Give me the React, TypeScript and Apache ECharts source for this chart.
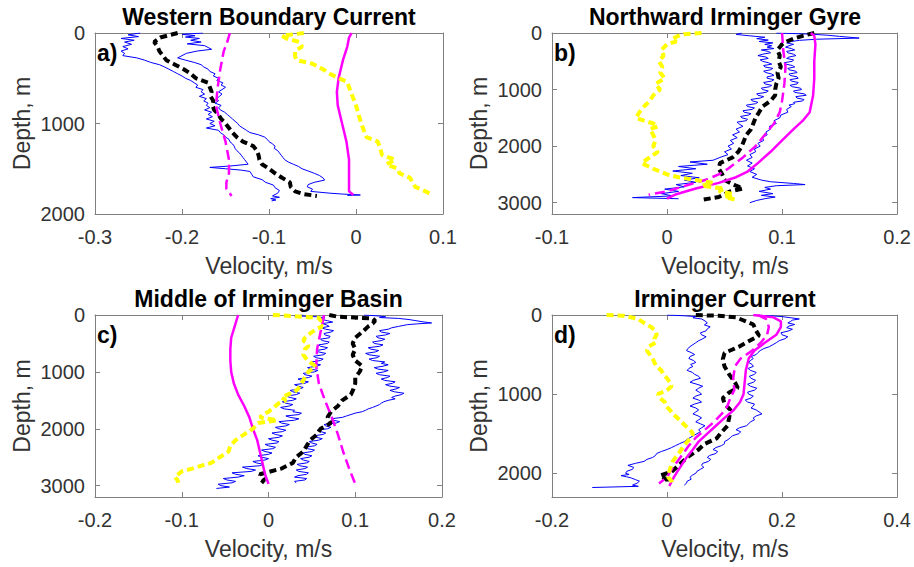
import React, { useEffect, useRef } from 'react';
import * as echarts from 'echarts';

type P = [number, number][]; // [depth (m), velocity (m/s)]

// ---------- Panel a: Western Boundary Current ----------
const aBlueLeft: P = [[0,-0.248],[20,-0.262],[40,-0.25],[60,-0.27],[80,-0.255],[100,-0.266],[125,-0.258],[150,-0.268],[175,-0.262],[200,-0.27],[225,-0.266],[250,-0.268],[275,-0.252],[300,-0.243],[325,-0.236],[350,-0.226],[375,-0.22],[400,-0.215],[425,-0.21],[450,-0.205],[475,-0.2],[500,-0.196],[525,-0.19],[550,-0.186],[575,-0.182],[600,-0.184],[625,-0.176],[650,-0.178],[675,-0.174],[700,-0.18],[725,-0.172],[750,-0.175],[775,-0.17],[800,-0.172],[825,-0.168],[850,-0.174],[875,-0.166],[900,-0.17],[925,-0.165],[950,-0.172],[975,-0.163],[1000,-0.168],[1025,-0.162],[1050,-0.172],[1075,-0.158],[1100,-0.156],[1125,-0.152],[1150,-0.15],[1175,-0.146],[1200,-0.145],[1225,-0.142],[1250,-0.14],[1275,-0.139],[1300,-0.137],[1325,-0.134],[1350,-0.132],[1375,-0.13],[1400,-0.128],[1425,-0.126],[1450,-0.124],[1470,-0.145],[1485,-0.168],[1500,-0.15],[1515,-0.132],[1530,-0.122],[1560,-0.12],[1590,-0.118],[1620,-0.108],[1650,-0.104],[1680,-0.095],[1710,-0.093],[1740,-0.088],[1770,-0.09],[1800,-0.096],[1815,-0.088],[1830,-0.098],[1845,-0.092],[1855,-0.097]];
const aBlueRight: P = [[0,-0.176],[15,-0.2],[30,-0.185],[45,-0.196],[60,-0.18],[80,-0.19],[100,-0.178],[120,-0.194],[140,-0.174],[160,-0.17],[180,-0.166],[200,-0.183],[225,-0.195],[250,-0.2],[275,-0.205],[300,-0.196],[325,-0.186],[350,-0.178],[375,-0.175],[400,-0.17],[425,-0.168],[450,-0.162],[475,-0.164],[500,-0.158],[525,-0.16],[550,-0.153],[575,-0.155],[600,-0.15],[625,-0.154],[650,-0.158],[675,-0.154],[700,-0.157],[725,-0.16],[750,-0.158],[775,-0.162],[800,-0.155],[825,-0.158],[850,-0.156],[875,-0.151],[900,-0.148],[925,-0.145],[950,-0.142],[975,-0.139],[1000,-0.136],[1025,-0.134],[1050,-0.13],[1075,-0.126],[1100,-0.122],[1125,-0.112],[1150,-0.105],[1175,-0.102],[1200,-0.1],[1225,-0.096],[1250,-0.093],[1275,-0.094],[1300,-0.09],[1325,-0.088],[1350,-0.086],[1375,-0.084],[1400,-0.082],[1425,-0.078],[1450,-0.072],[1475,-0.066],[1500,-0.062],[1525,-0.055],[1550,-0.048],[1575,-0.042],[1600,-0.038],[1625,-0.036],[1650,-0.048],[1675,-0.055],[1700,-0.056],[1725,-0.05],[1750,-0.052],[1770,-0.03],[1780,-0.015],[1790,0.005],[1795,-0.01]];
const aBlack: P = [[0,-0.205],[50,-0.225],[100,-0.232],[150,-0.228],[200,-0.226],[250,-0.222],[300,-0.218],[350,-0.208],[400,-0.198],[450,-0.19],[500,-0.184],[550,-0.17],[600,-0.168],[650,-0.166],[700,-0.167],[750,-0.164],[800,-0.165],[850,-0.163],[900,-0.158],[950,-0.155],[1000,-0.15],[1050,-0.146],[1100,-0.142],[1150,-0.137],[1200,-0.13],[1250,-0.118],[1300,-0.114],[1350,-0.112],[1400,-0.111],[1450,-0.108],[1500,-0.1],[1550,-0.093],[1600,-0.085],[1650,-0.076],[1700,-0.075],[1750,-0.07],[1780,-0.06],[1800,-0.045]];
const aMagSolid: P = [[0,-0.005],[50,-0.008],[150,-0.01],[300,-0.015],[500,-0.02],[650,-0.022],[800,-0.021],[1000,-0.016],[1200,-0.011],[1400,-0.008],[1600,-0.008],[1750,-0.008],[1790,-0.003]];
const aMagDash: P = [[0,-0.145],[100,-0.148],[200,-0.152],[400,-0.156],[600,-0.159],[800,-0.161],[1000,-0.156],[1200,-0.15],[1400,-0.146],[1550,-0.146],[1650,-0.149],[1720,-0.149],[1800,-0.143]];
const aYellow: P = [[0,-0.06],[30,-0.085],[60,-0.08],[100,-0.065],[150,-0.062],[200,-0.07],[260,-0.07],[300,-0.068],[340,-0.05],[400,-0.038],[450,-0.03],[500,-0.02],[540,-0.01],[600,-0.008],[700,-0.004],[800,0],[900,0.003],[1000,0.006],[1100,0.01],[1150,0.012],[1200,0.025],[1280,0.028],[1350,0.03],[1400,0.045],[1450,0.035],[1500,0.048],[1550,0.05],[1600,0.062],[1650,0.065],[1700,0.068],[1750,0.08],[1790,0.088]];

// ---------- Panel b: Northward Irminger Gyre ----------
const bBlueLeft: P = [[0,0.065],[25,0.06],[50,0.072],[75,0.085],[100,0.078],[125,0.088],[150,0.08],[175,0.092],[200,0.085],[225,0.091],[250,0.087],[275,0.093],[300,0.082],[325,0.088],[350,0.09],[375,0.083],[400,0.079],[425,0.086],[450,0.088],[475,0.081],[500,0.083],[525,0.088],[550,0.091],[575,0.084],[600,0.085],[625,0.092],[650,0.09],[675,0.084],[700,0.086],[725,0.091],[750,0.093],[775,0.087],[800,0.087],[825,0.093],[850,0.091],[875,0.084],[900,0.085],[925,0.091],[950,0.089],[975,0.082],[1000,0.083],[1025,0.088],[1050,0.086],[1075,0.078],[1100,0.079],[1125,0.084],[1150,0.081],[1175,0.073],[1200,0.074],[1225,0.079],[1250,0.077],[1275,0.069],[1300,0.07],[1325,0.076],[1350,0.074],[1375,0.066],[1400,0.067],[1425,0.073],[1450,0.071],[1475,0.064],[1500,0.065],[1525,0.07],[1550,0.069],[1575,0.061],[1600,0.062],[1650,0.066],[1700,0.06],[1750,0.063],[1800,0.057],[1850,0.061],[1900,0.055],[1950,0.058],[2000,0.053],[2050,0.056],[2100,0.05],[2150,0.053],[2200,0.046],[2250,0.04],[2280,0.02],[2320,0.035],[2360,0.01],[2400,0.025],[2440,0.005],[2480,0.022],[2520,0.012],[2560,0.028],[2600,0.015],[2640,0.025],[2680,0.008],[2720,0.015],[2760,-0.002],[2800,0.01],[2840,-0.005],[2880,0.005],[2910,-0.03],[2930,0.01]];
const bBlueRight: P = [[0,0.095],[20,0.125],[40,0.14],[60,0.15],[90,0.167],[110,0.13],[130,0.115],[150,0.108],[175,0.104],[200,0.11],[225,0.106],[250,0.103],[275,0.108],[300,0.111],[325,0.104],[350,0.105],[375,0.11],[400,0.112],[425,0.106],[450,0.104],[475,0.11],[500,0.109],[525,0.102],[550,0.103],[575,0.109],[600,0.111],[625,0.105],[650,0.106],[675,0.112],[700,0.113],[725,0.106],[750,0.107],[775,0.113],[800,0.114],[825,0.107],[850,0.108],[875,0.114],[900,0.113],[925,0.107],[950,0.109],[975,0.116],[1000,0.117],[1025,0.11],[1050,0.111],[1075,0.119],[1100,0.121],[1125,0.112],[1150,0.113],[1175,0.119],[1200,0.118],[1225,0.11],[1250,0.111],[1275,0.106],[1300,0.108],[1350,0.104],[1400,0.105],[1450,0.099],[1500,0.098],[1550,0.093],[1600,0.095],[1650,0.089],[1700,0.09],[1750,0.086],[1800,0.087],[1850,0.083],[1900,0.084],[1950,0.079],[2000,0.081],[2050,0.076],[2100,0.077],[2150,0.072],[2200,0.074],[2250,0.069],[2300,0.074],[2350,0.07],[2400,0.076],[2450,0.072],[2500,0.078],[2550,0.074],[2600,0.082],[2630,0.09],[2660,0.11],[2680,0.12],[2700,0.095],[2730,0.085],[2760,0.09],[2800,0.08],[2840,0.092],[2870,0.082],[2900,0.094],[2930,0.085],[2960,0.078],[3000,0.072]];
const bBlack: P = [[0,0.128],[50,0.118],[100,0.11],[150,0.104],[200,0.1],[300,0.096],[400,0.098],[500,0.097],[600,0.099],[700,0.096],[800,0.097],[900,0.095],[1000,0.094],[1100,0.094],[1200,0.09],[1300,0.083],[1400,0.08],[1500,0.077],[1600,0.075],[1700,0.073],[1800,0.069],[1900,0.067],[2000,0.065],[2100,0.062],[2200,0.057],[2300,0.046],[2400,0.045],[2500,0.048],[2600,0.05],[2700,0.06],[2750,0.066],[2800,0.055],[2850,0.05],[2900,0.045],[2950,0.03]];
const bMagSolid: P = [[0,0.125],[50,0.128],[200,0.129],[500,0.128],[800,0.128],[1100,0.127],[1400,0.124],[1550,0.118],[1700,0.11],[1900,0.1],[2100,0.09],[2300,0.079],[2450,0.07],[2550,0.06],[2650,0.045],[2750,0.025],[2850,0.008],[2930,0.0]];
const bMagDash: P = [[0,0.1],[300,0.101],[600,0.103],[900,0.102],[1200,0.1],[1400,0.098],[1600,0.093],[1800,0.085],[2000,0.077],[2200,0.066],[2400,0.053],[2500,0.045],[2600,0.033],[2700,0.016],[2800,0.0],[2860,-0.016]];
const bYellow: P = [[0,0.03],[20,0.015],[50,0.01],[100,0.005],[150,0.008],[200,0.0],[300,-0.005],[400,-0.003],[500,-0.007],[600,-0.004],[700,-0.006],[800,-0.002],[900,-0.01],[1000,-0.006],[1100,-0.012],[1200,-0.015],[1300,-0.02],[1400,-0.024],[1500,-0.027],[1550,-0.02],[1600,-0.012],[1650,-0.008],[1700,-0.015],[1800,-0.012],[1900,-0.01],[2000,-0.012],[2100,-0.008],[2200,-0.015],[2300,-0.022],[2400,-0.012],[2500,0.0],[2550,0.01],[2600,0.025],[2650,0.04],[2700,0.03],[2750,0.05],[2800,0.045],[2850,0.058],[2900,0.05],[2950,0.06]];

// ---------- Panel c: Middle of Irminger Basin ----------
const cBlueLeft: P = [[0,0.04],[15,0.03],[30,0.055],[50,0.065],[75,0.06],[100,0.068],[125,0.074],[150,0.062],[175,0.067],[200,0.07],[225,0.061],[250,0.066],[275,0.075],[300,0.072],[325,0.064],[350,0.065],[375,0.071],[400,0.07],[425,0.06],[450,0.062],[475,0.07],[500,0.068],[525,0.058],[550,0.06],[575,0.068],[600,0.065],[625,0.055],[650,0.058],[675,0.066],[700,0.063],[725,0.052],[750,0.055],[775,0.063],[800,0.06],[825,0.05],[850,0.052],[875,0.06],[900,0.056],[925,0.045],[950,0.048],[975,0.057],[1000,0.053],[1025,0.04],[1050,0.042],[1075,0.05],[1100,0.046],[1125,0.034],[1150,0.038],[1175,0.046],[1200,0.042],[1225,0.03],[1250,0.034],[1275,0.04],[1300,0.036],[1325,0.025],[1350,0.028],[1375,0.036],[1400,0.032],[1425,0.02],[1450,0.025],[1475,0.032],[1500,0.028],[1525,0.016],[1550,0.02],[1575,0.028],[1600,0.024],[1625,0.014],[1650,0.018],[1675,0.03],[1700,0.028],[1725,0.038],[1750,0.035],[1775,0.02],[1800,0.025],[1825,0.035],[1850,0.03],[1875,0.012],[1900,0.015],[1925,0.024],[1950,0.02],[1975,0.008],[2000,0.012],[2025,0.02],[2050,0.016],[2075,0.004],[2100,0.008],[2125,0.016],[2150,0.012],[2175,0.0],[2200,0.004],[2225,0.012],[2250,0.01],[2275,-0.004],[2300,0.0],[2325,0.008],[2350,0.005],[2375,-0.008],[2400,-0.004],[2425,0.004],[2450,0.0],[2475,-0.012],[2500,-0.008],[2525,0.0],[2550,-0.004],[2575,-0.018],[2600,-0.014],[2625,-0.006],[2650,-0.01],[2675,-0.03],[2700,-0.025],[2725,-0.015],[2750,-0.02],[2775,-0.042],[2800,-0.038],[2825,-0.028],[2850,-0.035],[2875,-0.052],[2900,-0.048],[2925,-0.038],[2950,-0.042],[2975,-0.058],[3000,-0.055],[3025,-0.045],[3050,-0.06]];
const cBlueRight: P = [[0,0.11],[15,0.125],[30,0.135],[45,0.128],[60,0.15],[80,0.162],[100,0.17],[120,0.178],[140,0.188],[155,0.172],[170,0.16],[185,0.155],[200,0.15],[225,0.142],[250,0.138],[275,0.128],[300,0.13],[325,0.14],[350,0.135],[375,0.124],[400,0.126],[425,0.134],[450,0.13],[475,0.12],[500,0.122],[525,0.132],[550,0.128],[575,0.115],[600,0.118],[625,0.127],[650,0.123],[675,0.112],[700,0.116],[725,0.128],[750,0.125],[775,0.116],[800,0.12],[825,0.134],[850,0.13],[875,0.138],[900,0.132],[925,0.122],[950,0.126],[975,0.138],[1000,0.133],[1025,0.124],[1050,0.128],[1075,0.14],[1100,0.137],[1125,0.13],[1150,0.134],[1175,0.146],[1200,0.143],[1225,0.135],[1250,0.14],[1275,0.151],[1300,0.147],[1325,0.14],[1350,0.145],[1375,0.156],[1400,0.153],[1425,0.146],[1450,0.142],[1475,0.146],[1500,0.138],[1525,0.133],[1550,0.13],[1575,0.128],[1600,0.124],[1625,0.12],[1650,0.115],[1675,0.112],[1700,0.108],[1725,0.1],[1750,0.095],[1775,0.09],[1800,0.085],[1825,0.072],[1850,0.075],[1875,0.082],[1900,0.078],[1925,0.064],[1950,0.066],[1975,0.072],[2000,0.068],[2025,0.056],[2050,0.06],[2075,0.066],[2100,0.063],[2125,0.052],[2150,0.055],[2175,0.062],[2200,0.058],[2225,0.047],[2250,0.05],[2275,0.056],[2300,0.053],[2325,0.042],[2350,0.045],[2375,0.053],[2400,0.05],[2425,0.04],[2450,0.042],[2475,0.05],[2500,0.047],[2525,0.037],[2550,0.04],[2575,0.047],[2600,0.044],[2625,0.033],[2650,0.036],[2675,0.045],[2700,0.042],[2725,0.032],[2750,0.035],[2775,0.046],[2800,0.044],[2825,0.034],[2850,0.03],[2875,0.044],[2900,0.042],[2925,0.03],[2950,0.032]];
const cBlack: P = [[0,0.07],[30,0.08],[60,0.12],[100,0.123],[150,0.12],[200,0.115],[300,0.108],[400,0.1],[500,0.097],[600,0.1],[700,0.097],[800,0.1],[900,0.108],[1000,0.105],[1100,0.1],[1200,0.1],[1300,0.098],[1400,0.095],[1500,0.085],[1600,0.08],[1700,0.072],[1800,0.068],[1900,0.072],[2000,0.06],[2100,0.056],[2200,0.048],[2300,0.044],[2400,0.04],[2500,0.032],[2600,0.028],[2700,0.015],[2800,-0.01],[2900,-0.005],[2950,-0.008]];
const cMagSolid: P = [[0,-0.035],[200,-0.039],[400,-0.043],[600,-0.044],[800,-0.044],[1000,-0.043],[1200,-0.04],[1400,-0.035],[1600,-0.028],[1800,-0.022],[2000,-0.018],[2200,-0.013],[2400,-0.01],[2600,-0.007],[2800,-0.004],[2970,0.0]];
const cMagDash: P = [[0,0.064],[300,0.06],[600,0.056],[900,0.055],[1200,0.058],[1500,0.065],[1800,0.073],[2100,0.08],[2400,0.086],[2700,0.093],[2970,0.1]];
const cYellow: P = [[0,0.005],[20,0.03],[50,0.058],[100,0.06],[150,0.058],[200,0.062],[250,0.055],[300,0.05],[350,0.046],[400,0.042],[450,0.04],[500,0.045],[550,0.046],[600,0.042],[700,0.04],[800,0.045],[900,0.054],[950,0.05],[1000,0.046],[1100,0.042],[1200,0.038],[1300,0.034],[1350,0.03],[1400,0.022],[1450,0.015],[1500,0.02],[1550,0.012],[1600,0.008],[1700,0.0],[1750,-0.006],[1800,-0.01],[1850,0.01],[1900,-0.012],[2000,-0.018],[2100,-0.028],[2200,-0.038],[2300,-0.044],[2400,-0.046],[2500,-0.056],[2600,-0.066],[2700,-0.088],[2750,-0.1],[2800,-0.104],[2850,-0.108],[2900,-0.105],[2950,-0.104]];

// ---------- Panel d: Irminger Current ----------
const dBlueLeft: P = [[0,0.0],[10,0.03],[20,0.05],[35,0.045],[50,0.06],[75,0.066],[100,0.07],[125,0.065],[150,0.075],[175,0.07],[200,0.068],[225,0.058],[250,0.06],[275,0.068],[300,0.062],[325,0.055],[350,0.05],[375,0.045],[400,0.04],[425,0.036],[450,0.034],[475,0.042],[500,0.048],[525,0.04],[550,0.038],[575,0.046],[600,0.05],[625,0.041],[650,0.045],[675,0.038],[700,0.035],[725,0.044],[750,0.048],[775,0.055],[800,0.058],[825,0.046],[850,0.04],[875,0.052],[900,0.062],[925,0.055],[950,0.05],[975,0.056],[1000,0.06],[1025,0.05],[1050,0.045],[1075,0.055],[1100,0.06],[1125,0.048],[1150,0.04],[1175,0.05],[1200,0.055],[1225,0.05],[1250,0.045],[1275,0.054],[1300,0.06],[1325,0.055],[1350,0.05],[1375,0.058],[1400,0.066],[1425,0.06],[1450,0.055],[1475,0.058],[1500,0.052],[1525,0.046],[1550,0.04],[1575,0.034],[1600,0.03],[1625,0.022],[1650,0.015],[1675,0.008],[1700,0.0],[1725,-0.01],[1750,-0.018],[1775,-0.02],[1800,-0.025],[1825,-0.035],[1850,-0.04],[1875,-0.055],[1900,-0.068],[1925,-0.058],[1950,-0.06],[1975,-0.07],[2000,-0.072],[2015,-0.066],[2030,-0.08],[2045,-0.07],[2060,-0.062],[2080,-0.055],[2100,-0.048],[2125,-0.052],[2150,-0.06],[2165,-0.05],[2180,-0.13]];
const dBlueRight: P = [[0,0.15],[10,0.18],[20,0.2],[35,0.215],[50,0.23],[65,0.218],[80,0.215],[100,0.21],[120,0.222],[140,0.212],[160,0.208],[180,0.218],[200,0.212],[225,0.198],[250,0.2],[275,0.21],[300,0.205],[325,0.195],[350,0.19],[375,0.184],[400,0.178],[425,0.168],[450,0.162],[475,0.158],[500,0.155],[525,0.146],[550,0.15],[575,0.145],[600,0.142],[625,0.148],[650,0.15],[675,0.141],[700,0.145],[725,0.155],[750,0.152],[775,0.143],[800,0.146],[825,0.154],[850,0.15],[875,0.14],[900,0.145],[925,0.156],[950,0.152],[975,0.14],[1000,0.142],[1025,0.15],[1050,0.146],[1075,0.136],[1100,0.14],[1125,0.152],[1150,0.15],[1175,0.146],[1200,0.155],[1225,0.16],[1250,0.165],[1275,0.155],[1300,0.15],[1325,0.152],[1350,0.145],[1375,0.142],[1400,0.138],[1425,0.126],[1450,0.12],[1475,0.128],[1500,0.125],[1525,0.114],[1550,0.11],[1575,0.106],[1600,0.1],[1625,0.1],[1650,0.095],[1675,0.085],[1700,0.08],[1725,0.088],[1750,0.085],[1775,0.074],[1800,0.07],[1825,0.076],[1850,0.072],[1875,0.062],[1900,0.06],[1925,0.064],[1950,0.058],[1975,0.052],[2000,0.05],[2025,0.044],[2050,0.04],[2075,0.042],[2100,0.035],[2125,0.034],[2150,0.03]];
const dBlack: P = [[0,0.05],[10,0.09],[30,0.12],[60,0.13],[120,0.15],[200,0.155],[260,0.16],[320,0.145],[400,0.125],[480,0.1],[560,0.097],[650,0.1],[750,0.108],[850,0.118],[920,0.123],[980,0.108],[1050,0.097],[1120,0.1],[1200,0.11],[1300,0.108],[1400,0.105],[1480,0.095],[1560,0.086],[1630,0.065],[1700,0.055],[1800,0.035],[1900,0.02],[1980,0.008],[2030,-0.012],[2080,0.0],[2140,0.0]];
const dMagSolid: P = [[0,0.15],[30,0.185],[80,0.198],[150,0.198],[250,0.19],[350,0.17],[450,0.152],[550,0.142],[700,0.137],[850,0.135],[1000,0.133],[1100,0.127],[1200,0.116],[1300,0.1],[1400,0.085],[1500,0.07],[1600,0.055],[1700,0.045],[1800,0.034],[1900,0.025],[2000,0.016],[2100,0.008],[2160,0.004]];
const dMagDash: P = [[0,0.158],[50,0.172],[150,0.177],[250,0.174],[350,0.163],[450,0.148],[550,0.128],[650,0.118],[800,0.115],[950,0.117],[1050,0.11],[1150,0.105],[1250,0.095],[1350,0.082],[1450,0.066],[1550,0.05],[1650,0.038],[1750,0.028],[1850,0.018],[1950,0.008],[2050,0.0],[2130,-0.014]];
const dYellow: P = [[0,-0.105],[10,-0.075],[50,-0.05],[100,-0.04],[150,-0.028],[200,-0.02],[250,-0.018],[300,-0.022],[350,-0.02],[400,-0.032],[450,-0.035],[500,-0.03],[550,-0.025],[600,-0.022],[650,-0.018],[700,-0.01],[750,-0.006],[800,0.0],[850,0.005],[900,0.008],[950,0.0],[1000,-0.016],[1050,-0.012],[1100,-0.004],[1150,-0.002],[1200,0.005],[1250,0.01],[1300,0.018],[1350,0.025],[1400,0.032],[1450,0.04],[1500,0.045],[1550,0.042],[1600,0.035],[1650,0.03],[1700,0.025],[1750,0.02],[1800,0.015],[1850,0.01],[1900,0.007],[1950,0.005],[2000,0.003],[2050,0.002],[2100,0.008],[2140,0.01]];

// ---------- Texts and axis ranges ----------
const titles = ['Western Boundary Current', 'Northward Irminger Gyre', 'Middle of Irminger Basin', 'Irminger Current'];
const letters = ['a)', 'b)', 'c)', 'd)'];
const xLabel = 'Velocity, m/s';
const yLabel = 'Depth, m';
const xMins = [-0.3, -0.1, -0.2, -0.2];
const xMaxs = [0.1, 0.2, 0.2, 0.4];
const xSteps = [0.1, 0.1, 0.1, 0.2];
const depthMaxs = [2000, 3200, 3200, 2300];
const depthStep = 1000;

const panelData: P[][] = [
  [aBlueLeft, aBlueRight, aBlack, aMagSolid, aMagDash, aYellow],
  [bBlueLeft, bBlueRight, bBlack, bMagSolid, bMagDash, bYellow],
  [cBlueLeft, cBlueRight, cBlack, cMagSolid, cMagDash, cYellow],
  [dBlueLeft, dBlueRight, dBlack, dMagSolid, dMagDash, dYellow],
];

// layout (pixels)
const grids = [
  { left: 95, top: 33, width: 348, height: 181 },
  { left: 552, top: 33, width: 346, height: 181 },
  { left: 95, top: 315, width: 347, height: 182 },
  { left: 552, top: 315, width: 346, height: 182 },
];

const lineStyles = [
  { color: '#0000ff', width: 1, type: 'solid' as any },
  { color: '#0000ff', width: 1, type: 'solid' as any },
  { color: '#000000', width: 4, type: [7, 4] as any },
  { color: '#ff00ff', width: 2.5, type: 'solid' as any },
  { color: '#ff00ff', width: 2.5, type: [10, 5] as any },
  { color: '#ffff00', width: 4, type: [7, 4] as any },
];

const FONT = '"Liberation Sans", Arial, Helvetica, sans-serif';
const AXIS_COLOR = '#808080';
const TEXT_COLOR = '#333333';

function fmtTick(v: number): string {
  const r = Math.round(v * 1000) / 1000;
  return String(r);
}

export default function App() {
  const ref = useRef<HTMLDivElement>(null);
  useEffect(() => {
    if (!ref.current) return;
    const chart = echarts.init(ref.current, null, { renderer: 'svg' });
    const xAxis: any[] = [];
    const yAxis: any[] = [];
    const series: any[] = [];
    const graphic: any[] = [];
    grids.forEach((g, i) => {
      const common = {
        gridIndex: i,
        type: 'value',
        splitLine: { show: false },
        axisLine: { show: true, onZero: false, lineStyle: { color: AXIS_COLOR, width: 1 } },
        axisTick: { show: true, inside: true, length: 5, lineStyle: { color: AXIS_COLOR } },
      };
      const xBase = { ...common, min: xMins[i], max: xMaxs[i], interval: xSteps[i] };
      const yBase = { ...common, min: 0, max: depthMaxs[i], interval: depthStep, inverse: true };
      xAxis.push({
        ...xBase, position: 'bottom',
        axisLabel: { show: true, margin: 13, color: TEXT_COLOR, fontSize: 20, fontFamily: FONT, formatter: fmtTick },
      });
      xAxis.push({ ...xBase, position: 'top', axisLabel: { show: false } });
      yAxis.push({
        ...yBase, position: 'left',
        axisLabel: {
          show: true, margin: 10, color: TEXT_COLOR, fontSize: 20, fontFamily: FONT,
          showMaxLabel: depthMaxs[i] % depthStep === 0,
          formatter: (v: number) => (Math.round(v) % depthStep === 0 ? String(Math.round(v)) : ''),
        },
      });
      yAxis.push({ ...yBase, position: 'right', axisLabel: { show: false } });
      panelData[i].forEach((arr, k) => {
        series.push({
          type: 'line',
          xAxisIndex: 2 * i,
          yAxisIndex: 2 * i,
          data: arr.map(([d, v]) => [v, d]),
          showSymbol: false,
          symbol: 'none',
          lineStyle: lineStyles[k],
          itemStyle: { color: lineStyles[k].color },
          silent: true,
          z: 2 + k,
        });
      });
      const cx = g.left + g.width / 2;
      const cy = g.top + g.height / 2;
      graphic.push({
        type: 'text', x: cx, y: g.top - 16,
        style: { text: titles[i], font: `bold 23px ${FONT}`, fill: '#000', textAlign: 'center', textVerticalAlign: 'middle', align: 'center', verticalAlign: 'middle' },
      });
      graphic.push({
        type: 'text', x: g.left + 2, y: g.top + 8,
        style: { text: letters[i], font: `bold 23px ${FONT}`, fill: '#000', textAlign: 'left', textVerticalAlign: 'top', align: 'left', verticalAlign: 'top' },
        z: 100,
      });
      graphic.push({
        type: 'text', x: cx, y: g.top + g.height + 52,
        style: { text: xLabel, font: `23px ${FONT}`, fill: TEXT_COLOR, textAlign: 'center', textVerticalAlign: 'middle', align: 'center', verticalAlign: 'middle' },
      });
      graphic.push({
        type: 'text', x: g.left - 73, y: cy, rotation: Math.PI / 2,
        style: { text: yLabel, font: `23px ${FONT}`, fill: TEXT_COLOR, textAlign: 'center', textVerticalAlign: 'middle', align: 'center', verticalAlign: 'middle' },
      });
    });
    chart.setOption({
      animation: false,
      backgroundColor: '#ffffff',
      grid: grids.map((g) => ({ ...g, containLabel: false, show: false })),
      xAxis,
      yAxis,
      series,
      graphic,
    });
    return () => chart.dispose();
  }, []);
  return <div ref={ref} style={{ position: 'fixed', left: 0, top: 0, width: 914, height: 567, background: '#fff' }} />;
}
